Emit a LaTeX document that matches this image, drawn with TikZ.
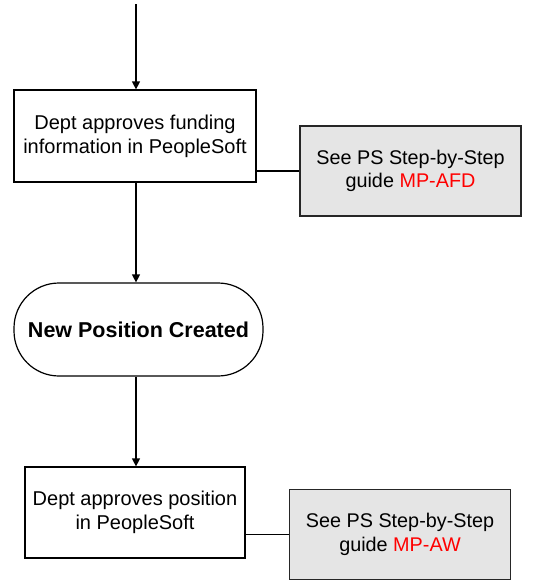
\documentclass[tikz,border=0pt]{standalone}
\usepackage{fontspec}
\setmainfont{Liberation Sans}
\usetikzlibrary{arrows.meta}
\usetikzlibrary{positioning}
\tikzset{task/.style={rectangle,draw=black,line width=1.2pt,fill=white,align=center,inner sep=0pt,font=\fontsize{20}{24}\selectfont}}
\tikzset{guide/.style={rectangle,draw=black!85,line width=1.4pt,fill=black!10,align=center,inner sep=0pt,minimum width=221pt,minimum height=90pt,font=\fontsize{19.8}{23.5}\selectfont}}
\tikzset{event/.style={rectangle,rounded corners=45pt,draw=black,line width=1.2pt,fill=white,inner sep=0pt,minimum width=249pt,minimum height=93pt,font=\fontsize{21.5}{25}\selectfont\bfseries}}
\tikzset{flow/.style={line width=1.2pt,-{Triangle[length=8pt,width=8pt]}}}

\begin{document}
\begin{tikzpicture}[x=1pt,y=1pt]
\useasboundingbox (0,0) rectangle (539,-582);

\coordinate (start) at (136,-4);
\node[task,minimum width=242pt,minimum height=92pt] (fund) at (135,-136) {Dept approves funding\\information in PeopleSoft};
\node[guide] (gfund) at (410.5,-171) {See PS Step-by-Step\\guide \textcolor{red}{MP-AFD}};
\node[event] (created) at (138.5,-329.5) {New Position Created};
\node[task,minimum width=220pt,minimum height=91pt] (pos) at (135,-512.5) {Dept approves position\\in PeopleSoft};
\node[guide] (gpos) at (400,-534.5) {See PS Step-by-Step\\guide \textcolor{red}{MP-AW}};

\draw[flow] (start) -- (start |- fund.north);
\draw[flow] (start |- fund.south) -- (start |- created.north);
\draw[flow] (start |- created.south) -- (start |- pos.north);

\draw[line width=1.2pt] (fund.east |- gfund) -- (gfund);
\draw[line width=1.2pt] (pos.east |- gpos) -- (gpos);

\end{tikzpicture}
\end{document}
